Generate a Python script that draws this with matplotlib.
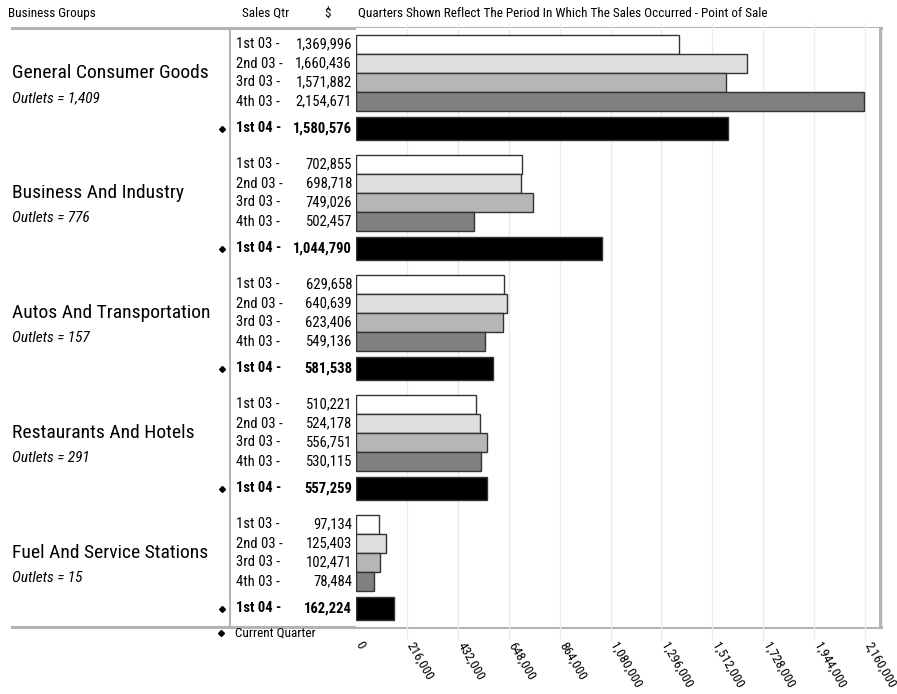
import matplotlib
matplotlib.use("Agg")
import matplotlib.pyplot as plt
from matplotlib.lines import Line2D
from matplotlib.transforms import ScaledTranslation

plt.rcParams['font.family'] = ['Roboto Condensed', 'Archivo Narrow', 'DejaVu Sans']

groups = ["General Consumer Goods", "Business And Industry", "Autos And Transportation",
          "Restaurants And Hotels", "Fuel And Service Stations"]
outlets = ["1,409", "776", "157", "291", "15"]
quarters = ["1st 03 -", "2nd 03 -", "3rd 03 -", "4th 03 -"]
current_label = "1st 04 -"
prev_sales = [
    [1369996, 1660436, 1571882, 2154671],
    [702855, 698718, 749026, 502457],
    [629658, 640639, 623406, 549136],
    [510221, 524178, 556751, 530115],
    [97134, 125403, 102471, 78484],
]
current_sales = [1580576, 1044790, 581538, 557259, 162224]
ticks = [0, 216000, 432000, 648000, 864000, 1080000, 1296000, 1512000, 1728000, 1944000, 2160000]

W, H = 897, 694
fig = plt.figure(figsize=(W / 100, H / 100), dpi=100)

# pixel layout
top, bot = 28, 627
x0, xr = 356, 879
px_per_val = 509 / 2160000

ax = fig.add_axes([x0 / W, 1 - bot / H, (xr - x0) / W, (bot - top) / H])
ax.set_xlim(0, (xr - x0) / px_per_val)
ax.set_ylim(bot - top, 0)
for s in ax.spines.values():
    s.set_visible(False)
ax.set_yticks([])
ax.set_xticks(ticks)
ax.set_xticklabels([f"{t:,}" for t in ticks], rotation=-60, ha='left', va='top', fontsize=9.5)
ax.tick_params(axis='x', length=0, pad=9)
for lab in ax.get_xticklabels():
    lab.set_transform(lab.get_transform() + ScaledTranslation(-3 / 100, 0, fig.dpi_scale_trans))
# light grid, running a little past the frame like the original
ax.vlines(ticks[1:], -5, bot - top + 13, color='#ececec', lw=1, zorder=0, clip_on=False)

colors = ['#ffffff', '#dedede', '#b6b6b6', '#808080']
fs = 10.5
gh = 120
for i, g in enumerate(groups):
    g0 = i * gh
    for j, v in enumerate(prev_sales[i]):
        yc = g0 + 7 + 19 * j + 9.5
        ax.barh(yc, v, height=19, color=colors[j], edgecolor='#333333', lw=1, zorder=3)
        ax.annotate(quarters[j], (0, yc), xytext=(236 - x0, 0), textcoords='offset pixels',
                    ha='left', va='center', fontsize=fs, annotation_clip=False)
        ax.annotate(f"{v:,}", (0, yc), xytext=(-4, 0), textcoords='offset pixels',
                    ha='right', va='center', fontsize=fs, annotation_clip=False)
    yc = g0 + 89 + 11.5
    ax.barh(yc, current_sales[i], height=23, color='black', edgecolor='#333333', lw=1, zorder=3)
    ax.annotate(current_label, (0, yc), xytext=(236 - x0, 0), textcoords='offset pixels',
                ha='left', va='center', fontsize=fs, fontweight='bold', annotation_clip=False)
    ax.annotate(f"{current_sales[i]:,}", (0, yc), xytext=(-4, 0), textcoords='offset pixels',
                ha='right', va='center', fontsize=fs, fontweight='bold', annotation_clip=False)
    ax.plot([0], [yc], marker='D', ms=3, color='black', clip_on=False,
            transform=ax.transData + ScaledTranslation((222 - x0) / 100, 0, fig.dpi_scale_trans))
    ax.annotate(g, (0, g0 + 45), xytext=(12 - x0, 0), textcoords='offset pixels',
                ha='left', va='center', fontsize=14, annotation_clip=False)
    ax.annotate(f"Outlets = {outlets[i]}", (0, g0 + 70), xytext=(12 - x0, 0), textcoords='offset pixels',
                ha='left', va='center', fontsize=11, style='italic', annotation_clip=False)

# overlay in pixel coordinates for frame and header
ov = fig.add_axes([0, 0, 1, 1], zorder=-1)
ov.set_xlim(0, W)
ov.set_ylim(H, 0)
ov.axis('off')
frame_c = '#b4b4b4'
ov.add_line(Line2D([12, 881], [top, top], color=frame_c, lw=2.2))
ov.add_line(Line2D([12, 881], [bot, bot], color=frame_c, lw=2.2))
ov.add_line(Line2D([229.5, 229.5], [top, bot], color=frame_c, lw=1.5))
ov.add_line(Line2D([880, 880], [top, bot], color=frame_c, lw=2.5))

hs = 9.5
ov.text(8, 13, "Business Groups", fontsize=hs, va='center')
ov.text(242, 13, "Sales Qtr", fontsize=hs, va='center')
ov.text(324, 13, "$", fontsize=hs, va='center')
ov.text(358, 13, "Quarters Shown Reflect The Period In Which The Sales Occurred - Point of Sale",
        fontsize=hs, va='center')
ov.plot([221], [633], marker='D', ms=3, color='black')
ov.text(235, 633, "Current Quarter", fontsize=hs, va='center')

fig.savefig("out.png", dpi=100)
